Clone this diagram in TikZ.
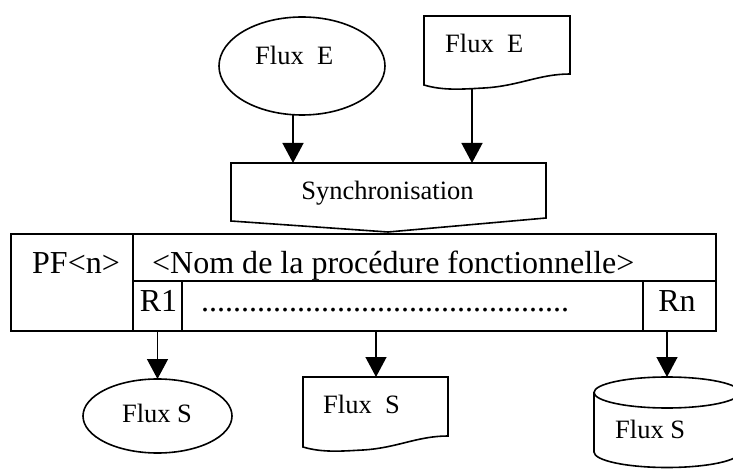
\documentclass[tikz,border=0pt]{standalone}
\usepackage{fontspec}
\setmainfont{Liberation Serif}
\usetikzlibrary{arrows.meta,shapes.geometric}
\begin{document}
\begin{tikzpicture}[x=1pt,y=-1pt,
  outline/.style={draw=black,line width=1.6pt},
  frame/.style={inner sep=0pt,outer sep=0pt},
  flow/.style={draw=black,line width=1.4pt,-{Triangle[length=20pt,width=21pt]}},
  smalltext/.style={inner sep=0pt,font=\fontsize{26.5pt}{30pt}\selectfont},
  bigtext/.style={inner sep=0pt,font=\fontsize{32pt}{36pt}\selectfont},
]
\useasboundingbox (0,0) rectangle (733,470);
\clip (0,0) rectangle (733,470);
\fill[white] (0,0) rectangle (733,470);

% ---- incoming flows ----
\node[outline,frame,ellipse,minimum width=166pt,minimum height=98pt] (inE) at (302,66) {};
\node[smalltext,anchor=base west] (inEt) at (255,65) {Flux\ \ E};

\node[frame,anchor=north west,minimum width=146pt,minimum height=73pt] (inD) at (424,16) {};
\begin{scope}[shift={(424,16)}]
  \draw[outline,line join=miter] (0,0) -- (146,0) -- (146,58)
    .. controls (115,58) and (95,70) .. (60,72)
    .. controls (40,73) and (20,75) .. (0,69) -- cycle;
\end{scope}
\node[smalltext,anchor=base west] (inDt) at (445,53) {Flux\ \ E};

% ---- synchronisation ----
\node[frame,minimum width=315pt,minimum height=69pt] (sync) at (388.5,197.5) {};
\draw[outline,line join=miter] (231,163) -- (546,163) -- (546,218) -- (388,232) -- (231,221) -- cycle;
\node[smalltext,anchor=base] (synct) at (387.5,200) {Synchronisation};

\coordinate (inEout) at ([xshift=-9pt]inE.south);
\coordinate (inDout) at (472,88);
\draw[flow] (inEout) -- (inEout |- sync.north);
\draw[flow] (inDout) -- (inDout |- sync.north);

% ---- functional procedure block ----
\node[outline,frame,anchor=north west,minimum width=122pt,minimum height=97pt] (pf) at (11,234) {};
\node[outline,frame,anchor=north west,minimum width=583pt,minimum height=47pt] (name) at (133,234) {};
\node[outline,frame,anchor=north west,minimum width=49pt,minimum height=50pt] (r1) at (133,281) {};
\node[outline,frame,anchor=north west,minimum width=461pt,minimum height=50pt] (dots) at (182,281) {};
\node[outline,frame,anchor=north west,minimum width=73pt,minimum height=50pt] (rn) at (643,281) {};

\node[bigtext,anchor=base west] (pft) at (32,273) {PF<n>};
\node[bigtext,anchor=base west] (namet) at (152,273) {<Nom de la procédure fonctionnelle>};
\node[bigtext,anchor=base] (r1t) at (158.5,311) {R1};
\node[bigtext,anchor=base west] (dotst) at (201,311) {..............................................};
\node[bigtext,anchor=base] (rnt) at (677,311) {Rn};

% ---- outgoing flows ----
\node[outline,frame,ellipse,minimum width=149pt,minimum height=74pt] (outS) at (157.5,416) {};
\node[smalltext,anchor=base] (outSt) at (157,422) {Flux S};

\node[frame,anchor=north west,minimum width=145pt,minimum height=75pt] (outD) at (303,377) {};
\begin{scope}[shift={(303,377)}]
  \draw[outline,line join=miter] (0,0) -- (145,0) -- (145,59)
    .. controls (114,59) and (94,71) .. (60,73)
    .. controls (40,74) and (20,76) .. (0,70) -- cycle;
\end{scope}
\node[smalltext,anchor=base west] (outDt) at (323,413) {Flux\ \ S};

\node[frame,anchor=north west,minimum width=146pt,minimum height=93pt] (cyl) at (594,377) {};
\draw[outline] (594,392.5) -- (594,452)
  .. controls (594,460.56) and (626.7,467.5) .. (667,467.5)
  .. controls (707.3,467.5) and (740,460.56) .. (740,452) -- (740,392.5);
\draw[outline] (667,392.5) ellipse [x radius=73, y radius=15.5];
\node[smalltext,anchor=base west] (cylt) at (615,438) {Flux S};

\coordinate (midout) at (376,331);
\coordinate (rnout) at (667,331);
\draw[flow] (r1.south) -- (outS.north);
\draw[flow] (midout) -- (midout |- outD.north);
\draw[flow] (rnout) -- (cyl.north);
\end{tikzpicture}
\end{document}
